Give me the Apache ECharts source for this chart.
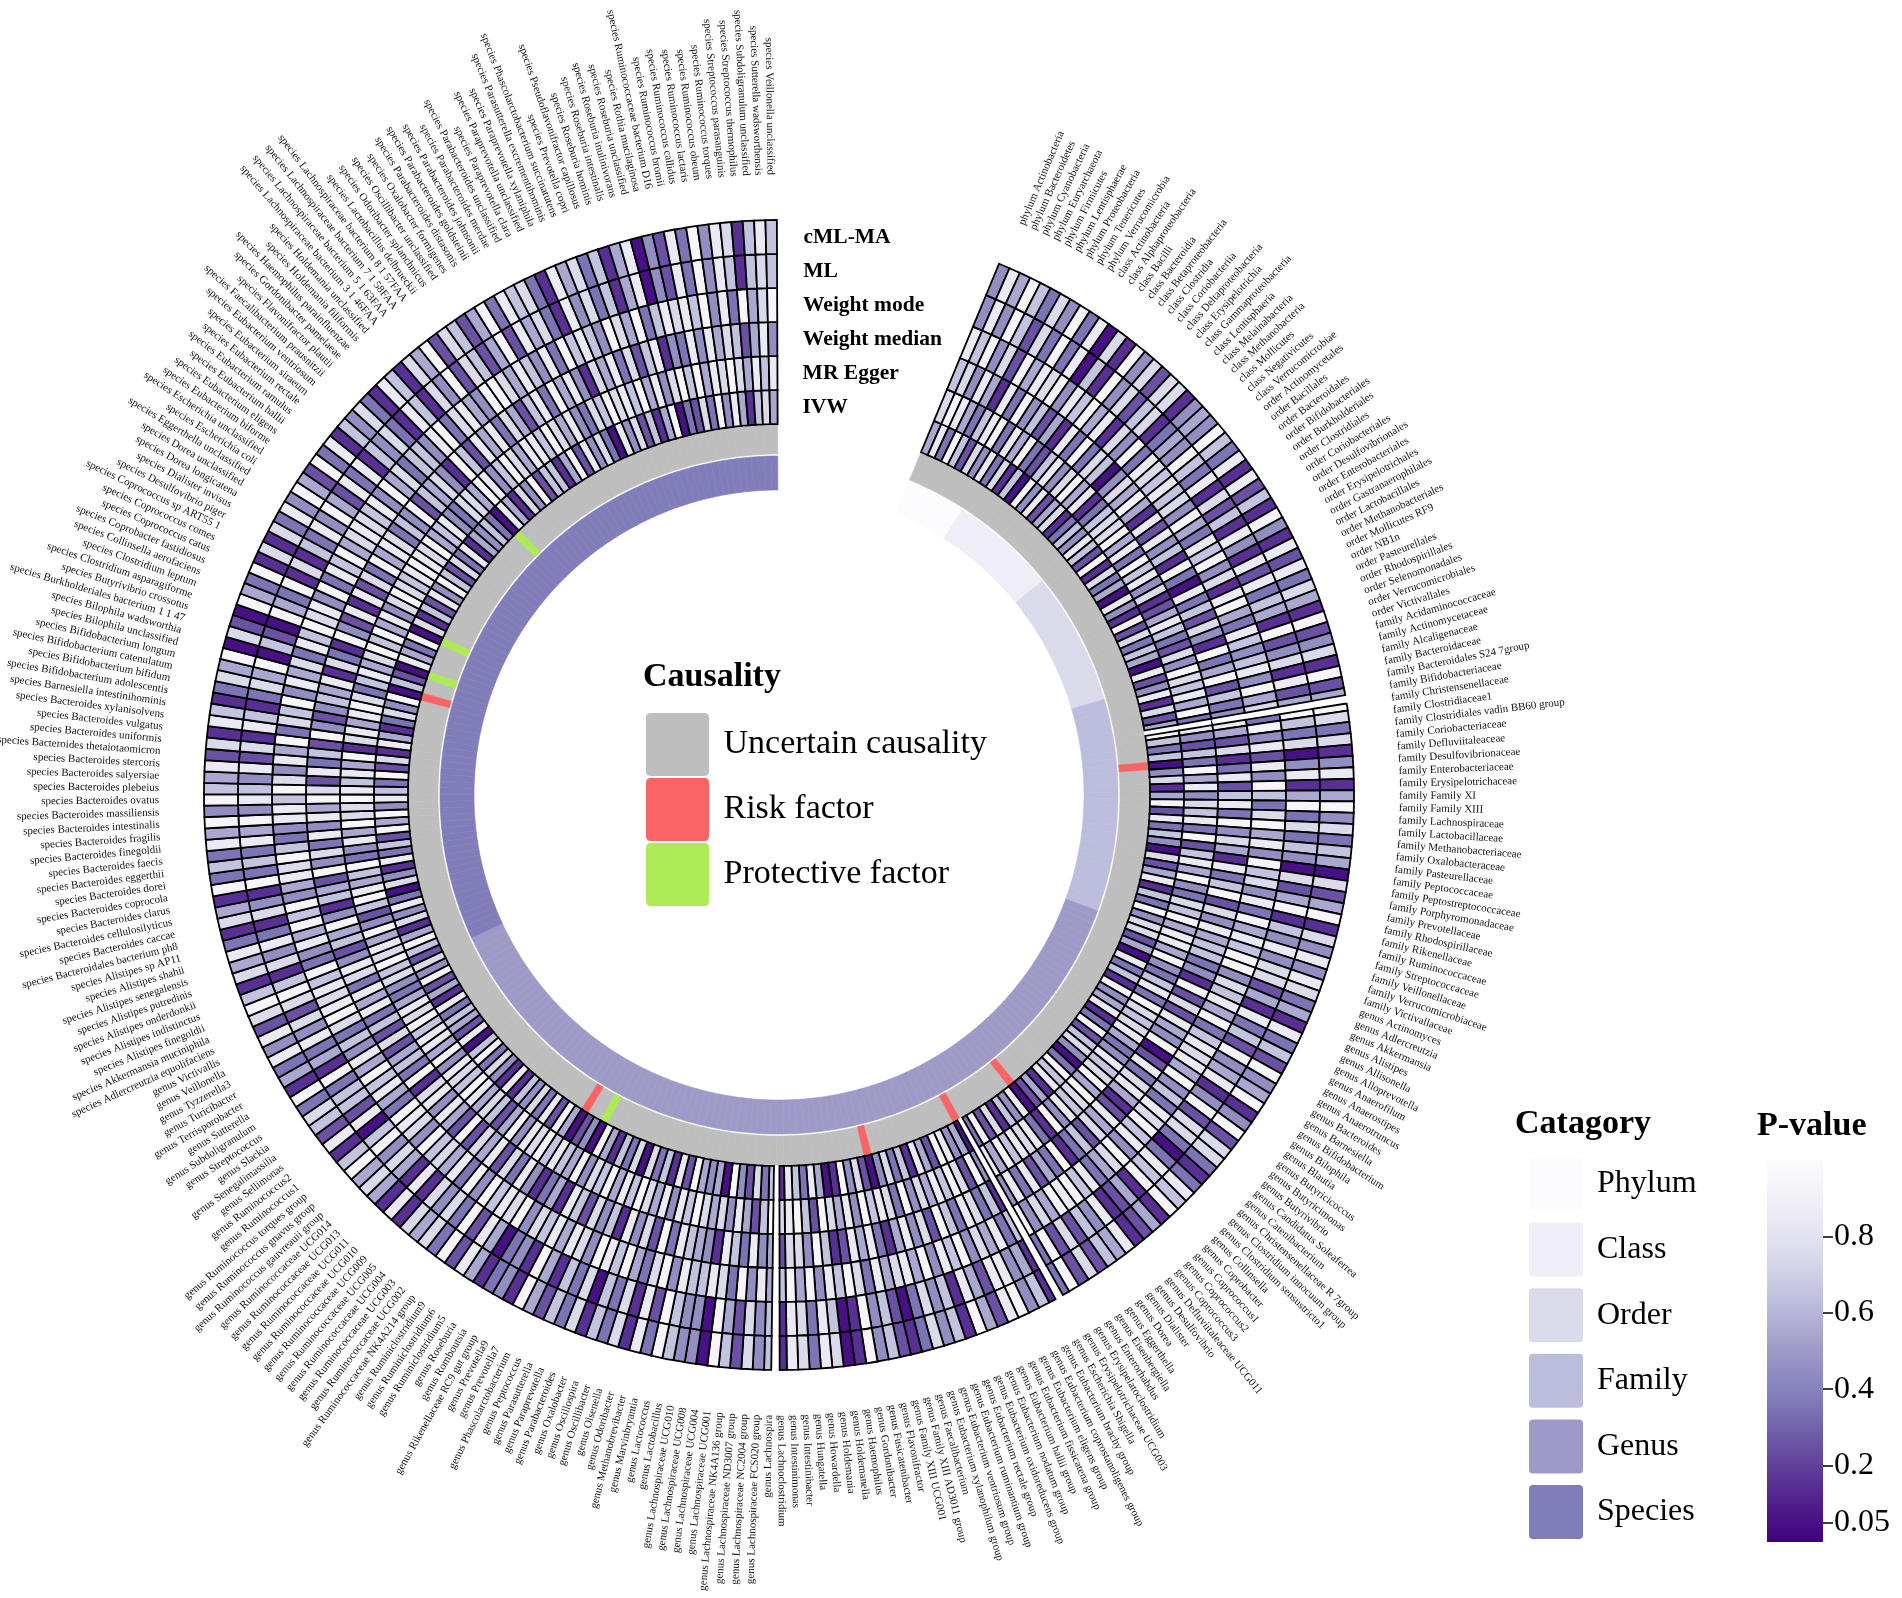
<!DOCTYPE html>
<html lang="en">
<head>
<meta charset="UTF-8">
<title>Causality circos heatmap</title>
<style>
    html, body { margin: 0; padding: 0; background: #fff; }
    #main { width: 1902px; height: 1598px; }
</style>
</head>
<body>
<div id="main"></div>
<script src="https://cdn.jsdelivr.net/npm/echarts@6/dist/echarts.min.js"></script>
<script>
    var phylum = ['Actinobacteria', 'Bacteroidetes', 'Cyanobacteria', 'Euryarchaeota', 'Firmicutes',
        'Lentisphaerae', 'Proteobacteria', 'Tenericutes', 'Verrucomicrobia'];
    var classes = ['Actinobacteria', 'Alphaproteobacteria', 'Bacilli', 'Bacteroidia', 'Betaproteobacteria',
        'Clostridia', 'Coriobacteriia', 'Deltaproteobacteria', 'Erysipelotrichia', 'Gammaproteobacteria',
        'Lentisphaeria', 'Melainabacteria', 'Methanobacteria', 'Mollicutes', 'Negativicutes', 'Verrucomicrobiae'];
    var orders = ['Actinomycetales', 'Bacillales', 'Bacteroidales', 'Bifidobacteriales', 'Burkholderiales',
        'Clostridiales', 'Coriobacteriales', 'Desulfovibrionales', 'Enterobacteriales', 'Erysipelotrichales',
        'Gastranaerophilales', 'Lactobacillales', 'Methanobacteriales', 'Mollicutes RF9', 'NB1n',
        'Pasteurellales', 'Rhodospirillales', 'Selenomonadales', 'Verrucomicrobiales', 'Victivallales'];
    var families = ['Acidaminococcaceae', 'Actinomycetaceae', 'Alcaligenaceae', 'Bacteroidaceae',
        'Bacteroidales S24 7group', 'Bifidobacteriaceae', 'Christensenellaceae', 'Clostridiaceae1',
        'Clostridiales vadin BB60 group', 'Coriobacteriaceae', 'Defluviitaleaceae', 'Desulfovibrionaceae',
        'Enterobacteriaceae', 'Erysipelotrichaceae', 'Family XI', 'Family XIII', 'Lachnospiraceae',
        'Lactobacillaceae', 'Methanobacteriaceae', 'Oxalobacteraceae', 'Pasteurellaceae', 'Peptococcaceae',
        'Peptostreptococcaceae', 'Porphyromonadaceae', 'Prevotellaceae', 'Rhodospirillaceae', 'Rikenellaceae',
        'Ruminococcaceae', 'Streptococcaceae', 'Veillonellaceae', 'Verrucomicrobiaceae', 'Victivallaceae'];
    var genera = ['Actinomyces', 'Adlercreutzia', 'Akkermansia', 'Alistipes', 'Allisonella', 'Alloprevotella',
        'Anaerofilum', 'Anaerostipes', 'Anaerotruncus', 'Bacteroides', 'Barnesiella', 'Bifidobacterium',
        'Bilophila', 'Blautia', 'Butyricicoccus', 'Butyricimonas', 'Butyrivibrio', 'Candidatus Soleaferrea',
        'Catenibacterium', 'Christensenellaceae R 7group', 'Clostridium innocuum group',
        'Clostridium sensustricto1', 'Collinsella', 'Coprobacter', 'Coprococcus1', 'Coprococcus2',
        'Coprococcus3', 'Defluviitaleaceae UCG011', 'Desulfovibrio', 'Dialister', 'Dorea', 'Eggerthella',
        'Eisenbergiella', 'Enterorhabdus', 'Erysipelatoclostridium', 'Erysipelotrichaceae UCG003',
        'Escherichia Shigella', 'Eubacterium brachy group', 'Eubacterium coprostanoligenes group',
        'Eubacterium eligens group', 'Eubacterium fissicatena group', 'Eubacterium hallii group',
        'Eubacterium nodatum group', 'Eubacterium oxidoreducens group', 'Eubacterium rectale group',
        'Eubacterium ruminantium group', 'Eubacterium ventriosum group', 'Eubacterium xylanophilum group',
        'Faecalibacterium', 'Family XIII AD3011 group', 'Family XIII UCG001', 'Flavonifractor',
        'Fusicatenibacter', 'Gordonibacter', 'Haemophilus', 'Holdemanella', 'Holdemania', 'Howardella',
        'Hungatella', 'Intestinibacter', 'Intestinimonas', 'Lachnoclostridium', 'Lachnospira',
        'Lachnospiraceae FCS020 group', 'Lachnospiraceae NC2004 group', 'Lachnospiraceae ND3007 group',
        'Lachnospiraceae NK4A136 group', 'Lachnospiraceae UCG001', 'Lachnospiraceae UCG004',
        'Lachnospiraceae UCG008', 'Lachnospiraceae UCG010', 'Lactobacillus', 'Lactococcus', 'Marvinbryantia',
        'Methanobrevibacter', 'Odoribacter', 'Olsenella', 'Oscillibacter', 'Oscillospira', 'Oxalobacter',
        'Parabacteroides', 'Paraprevotella', 'Parasutterella', 'Peptococcus', 'Phascolarctobacterium',
        'Prevotella7', 'Prevotella9', 'Rikenellaceae RC9 gut group', 'Romboutsia', 'Roseburia',
        'Ruminiclostridium5', 'Ruminiclostridium6', 'Ruminiclostridium9', 'Ruminococcaceae NK4A214 group',
        'Ruminococcaceae UCG002', 'Ruminococcaceae UCG003', 'Ruminococcaceae UCG004', 'Ruminococcaceae UCG005',
        'Ruminococcaceae UCG009', 'Ruminococcaceae UCG010', 'Ruminococcaceae UCG011', 'Ruminococcaceae UCG013',
        'Ruminococcaceae UCG014', 'Ruminococcus gauvreauii group', 'Ruminococcus gnavus group',
        'Ruminococcus torques group', 'Ruminococcus1', 'Ruminococcus2', 'Sellimonas', 'Senegalimassilia',
        'Slackia', 'Streptococcus', 'Subdoligranulum', 'Sutterella', 'Terrisporobacter', 'Turicibacter',
        'Tyzzerella3', 'Veillonella', 'Victivallis'];
    var species = ['Adlercreutzia equolifaciens', 'Akkermansia muciniphila', 'Alistipes finegoldii',
        'Alistipes indistinctus', 'Alistipes onderdonkii', 'Alistipes putredinis', 'Alistipes senegalensis',
        'Alistipes shahii', 'Alistipes sp AP11', 'Bacteroidales bacterium ph8', 'Bacteroides caccae',
        'Bacteroides cellulosilyticus', 'Bacteroides clarus', 'Bacteroides coprocola', 'Bacteroides dorei',
        'Bacteroides eggerthii', 'Bacteroides faecis', 'Bacteroides finegoldii', 'Bacteroides fragilis',
        'Bacteroides intestinalis', 'Bacteroides massiliensis', 'Bacteroides ovatus', 'Bacteroides plebeius',
        'Bacteroides salyersiae', 'Bacteroides stercoris', 'Bacteroides thetaiotaomicron',
        'Bacteroides uniformis', 'Bacteroides vulgatus', 'Bacteroides xylanisolvens',
        'Barnesiella intestinihominis', 'Bifidobacterium adolescentis', 'Bifidobacterium bifidum',
        'Bifidobacterium catenulatum', 'Bifidobacterium longum', 'Bilophila unclassified',
        'Bilophila wadsworthia', 'Burkholderiales bacterium 1 1 47', 'Butyrivibrio crossotus',
        'Clostridium asparagiforme', 'Clostridium leptum', 'Collinsella aerofaciens', 'Coprobacter fastidiosus',
        'Coprococcus catus', 'Coprococcus comes', 'Coprococcus sp ART55 1', 'Desulfovibrio piger',
        'Dialister invisus', 'Dorea longicatena', 'Dorea unclassified', 'Eggerthella unclassified',
        'Escherichia coli', 'Escherichia unclassified', 'Eubacterium biforme', 'Eubacterium eligens',
        'Eubacterium hallii', 'Eubacterium ramulus', 'Eubacterium rectale', 'Eubacterium siraeum',
        'Eubacterium ventriosum', 'Faecalibacterium prausnitzii', 'Flavonifractor plautii',
        'Gordonibacter pamelaeae', 'Haemophilus parainfluenzae', 'Holdemania filiformis',
        'Holdemania unclassified', 'Lachnospiraceae bacterium 3 1 46FAA', 'Lachnospiraceae bacterium 5 1 63FAA',
        'Lachnospiraceae bacterium 7 1 58FAA', 'Lachnospiraceae bacterium 8 1 57FAA', 'Lactobacillus delbrueckii',
        'Odoribacter splanchnicus', 'Oscillibacter unclassified', 'Oxalobacter formigenes',
        'Parabacteroides distasonis', 'Parabacteroides goldsteinii', 'Parabacteroides johnsonii',
        'Parabacteroides merdae', 'Parabacteroides unclassified', 'Paraprevotella clara',
        'Paraprevotella unclassified', 'Paraprevotella xylaniphila', 'Parasutterella excrementihominis',
        'Phascolarctobacterium succinatutens', 'Prevotella copri', 'Pseudoflavonifractor capillosus',
        'Roseburia hominis', 'Roseburia intestinalis', 'Roseburia inulinivorans', 'Roseburia unclassified',
        'Rothia mucilaginosa', 'Ruminococcaceae bacterium D16', 'Ruminococcus bromii', 'Ruminococcus callidus',
        'Ruminococcus lactaris', 'Ruminococcus obeum', 'Ruminococcus torques', 'Streptococcus parasanguinis',
        'Streptococcus thermophilus', 'Subdoligranulum unclassified', 'Sutterella wadsworthensis',
        'Veillonella unclassified'];

    var categories = ['Phylum', 'Class', 'Order', 'Family', 'Genus', 'Species'];
    var categoryColors = ['#fcfbfd', '#efedf5', '#dadaeb', '#bcbddc', '#9e9ac8', '#807dba'];

    // rings from inner to outer
    var methods = ['IVW', 'MR Egger', 'Weight median', 'Weight mode', 'ML', 'cML-MA'];

    // p-values, one digit per taxon (digit d -> p about d/10 + 0.05), split by category
    var pIVW = ['583962748', '3716094825713648', '62917350841927365082',
        '4817259636' + '0' + '471592836407258163947',
        '7250836194' + '5813926740' + '3968152084' + '6172930548' + '9258163740' + '2749105836' +
        '8163724905' + '4592816370' + '7361590420' + '5928374618' + '1473960825' + '638152947',
        '2695174830' + '7418362959' + '4863927185' + '1374906208' + '5390716284' + '9627381546' +
        '3085174926' + '6159284730' + '8472615903' + '2739485167' + '5'];
    var pEgger = ['798536893', '8593268479581367', '79583968471258632749',
        '7685938426' + '3' + '958476839268594376958',
        '8594368397' + '6785348679' + '5976849138' + '7869584927' + '9685749378' + '6948579269' +
        '8796258475' + '7968485796' + '8596749568' + '6978495267' + '5896784958' + '869785347',
        '6978594269' + '8569348597' + '7986859178' + '5897368579' + '6958479768' + '9879568437' +
        '7598469758' + '8697584376' + '9786958479' + '6958797586' + '8'];
    var pWMedian = ['674851839', '4625183937604759', '51828461930836274193',
        '5926348527' + '1' + '382683947518369274856',
        '6341927285' + '4902837851' + '2857263193' + '5283841637' + '8369274851' + '3858216947' +
        '7254836814' + '5683927481' + '6472681531' + '4837285729' + '2584871936' + '527263858',
        '3784265941' + '6529473848' + '5972836294' + '2465817319' + '4281827395' + '8736492657' +
        '4196285837' + '5268395841' + '7583726814' + '3848576258' + '4'];
    var pWMode = ['869472958', '7948695817493876', '86749538694718953864',
        '6849573948' + '2' + '849637958496748395869',
        '9476859368' + '7859463879' + '6849753869' + '8957496385' + '7496849587' + '5837968495' +
        '9658493786' + '6849735968' + '9478586749' + '7869493857' + '6947893586' + '958463798',
        '7869348596' + '9458796348' + '8697485937' + '6948573869' + '7849386957' + '8768495736' +
        '6489378549' + '9758648396' + '8649759368' + '7869483957' + '9'];
    var pML = ['484962739', '3806194726713549', '63817261841828365192',
        '4718259637' + '0' + '481593736407259164847',
        '7251836294' + '5814927730' + '3869152184' + '6272931548' + '8258164730' + '2649106837' +
        '8164725904' + '4692817360' + '7361591430' + '5829374718' + '1574960826' + '639153847',
        '2796174831' + '7419363859' + '4864827186' + '1375906209' + '5391716384' + '9528381647' +
        '3186174927' + '6259285731' + '8473615804' + '2839486167' + '6'];
    var pCML = ['485963749', '3807194727714549', '63818261941828375192',
        '4719259737' + '1' + '481594736507259174848',
        '7351836294' + '5914927731' + '3869152185' + '6272931649' + '8259164731' + '2649107837' +
        '8164726904' + '4693817361' + '7362591431' + '5829375718' + '1575961826' + '739153848',
        '2796175831' + '7519363859' + '4965827186' + '1375907209' + '5391717384' + '9529381647' +
        '3186175927' + '6259386731' + '8573615804' + '2839487168' + '6'];

    var riskFactors = ['family Defluviitaleaceae', 'genus Defluviitaleaceae UCG011', 'genus Escherichia Shigella',
        'genus Family XIII AD3011 group', 'genus Roseburia', 'species Bilophila wadsworthia'];
    var protectiveFactors = ['genus Prevotella9', 'species Clostridium asparagiforme',
        'species Coprococcus comes', 'species Gordonibacter pamelaeae'];
    // heatmap blocks are split after these taxa
    var heatGapAfter = ['family Bifidobacteriaceae', 'genus Erysipelotrichaceae UCG003', 'genus Lachnoclostridium'];

    var pTicks = [0.05, 0.2, 0.4, 0.6, 0.8];
    var purples = ['#3f007d', '#54278f', '#6a51a3', '#807dba', '#9e9ac8', '#bcbddc', '#dadaeb', '#efedf5', '#fcfbfd'];

    var SERIF = '"Liberation Serif", "Times New Roman", serif';

    var groups = [phylum, classes, orders, families, genera, species];
    var prefixes = ['phylum', 'class', 'order', 'family', 'genus', 'species'];
    var taxa = [], taxCat = [];
    groups.forEach(function (g, c) {
        g.forEach(function (n) { taxa.push(prefixes[c] + ' ' + n); taxCat.push(c); });
    });
    var GAP_SLOTS = 20;     // empty slots making the gap at the top
    var slots = taxa.slice();
    for (var k = 0; k < GAP_SLOTS; k++) slots.push('gap' + k);

    function parseP(segs) {
        var out = [];
        segs.forEach(function (s, c) {
            var n = groups[c].length;
            s.padEnd(n, '5').slice(0, n).split('').forEach(function (ch) { out.push(+ch / 10 + 0.05); });
        });
        return out;
    }
    var pByMethod = [pIVW, pEgger, pWMedian, pWMode, pML, pCML].map(parseP);

    // ring radii in px (radius axis is 1 unit = 1 px)
    var CAT_R = [305, 339], CAUSE_R = [341, 370], HEAT_R0 = 371, ROW = 34, LABEL_R = 620;
    var HALF_GAP = 0.42 * Math.PI / 180;

    var gapSet = {};
    heatGapAfter.forEach(function (n) { gapSet[taxa.indexOf(n)] = true; });

    function cellGeom(params, api, idx, r0, r1) {
        var cs = params.coordSys;
        var p = api.coord([r0, idx]), q = api.coord([r0, idx + 1]), o = api.coord([r1, idx]);
        var a = Math.atan2(p[1] - cs.cy, p[0] - cs.cx);
        var b = Math.atan2(q[1] - cs.cy, q[0] - cs.cx);
        var d = b - a;
        if (d < -Math.PI) d += 2 * Math.PI;
        if (d > Math.PI) d -= 2 * Math.PI;
        return {
            cx: cs.cx, cy: cs.cy, a: a, half: Math.abs(d) / 2,
            r0: Math.hypot(p[0] - cs.cx, p[1] - cs.cy),
            r: Math.hypot(o[0] - cs.cx, o[1] - cs.cy)
        };
    }

    function ringSeries(name, color, indices, r0, r1) {
        return {
            type: 'custom', name: name, coordinateSystem: 'polar', clip: false, silent: true,
            itemStyle: {color: color},
            data: indices.map(function (i) { return [r0, i]; }),
            renderItem: function (params, api) {
                var g = cellGeom(params, api, api.value(1), r0, r1);
                return {
                    type: 'sector',
                    shape: {cx: g.cx, cy: g.cy, r0: g.r0, r: g.r,
                        startAngle: g.a - g.half, endAngle: g.a + g.half, clockwise: true},
                    style: {fill: color, stroke: color, lineWidth: 0.6}
                };
            }
        };
    }

    var series = [];
    // category ring
    categories.forEach(function (cat, c) {
        var idx = [];
        taxCat.forEach(function (tc, i) { if (tc === c) idx.push(i); });
        series.push(ringSeries(cat, categoryColors[c], idx, CAT_R[0], CAT_R[1]));
    });
    // causality ring
    series.push(ringSeries('Uncertain causality', '#bebebe', taxa.map(function (t, i) { return i; }), CAUSE_R[0], CAUSE_R[1]));
    series.push(ringSeries('Risk factor', '#fb6466', riskFactors.map(function (n) { return taxa.indexOf(n); }), CAUSE_R[0], CAUSE_R[1]));
    series.push(ringSeries('Protective factor', '#aeea56', protectiveFactors.map(function (n) { return taxa.indexOf(n); }), CAUSE_R[0], CAUSE_R[1]));

    // heatmap rings
    var heatIdx = [];
    methods.forEach(function (m, k) {
        var r0 = HEAT_R0 + ROW * k, r1 = r0 + ROW;
        heatIdx.push(series.length);
        series.push({
            type: 'custom', name: m, coordinateSystem: 'polar', clip: false, silent: true,
            data: pByMethod[k].map(function (p, i) { return [r0, i, p]; }),
            renderItem: function (params, api) {
                var i = api.value(1);
                var g = cellGeom(params, api, i, r0, r1);
                var s = g.a - g.half, e = g.a + g.half;
                if (gapSet[i]) e -= HALF_GAP;
                if (gapSet[i - 1]) s += HALF_GAP;
                return {
                    type: 'sector',
                    shape: {cx: g.cx, cy: g.cy, r0: g.r0, r: g.r, startAngle: s, endAngle: e, clockwise: true},
                    style: {fill: api.visual('color'), stroke: '#000', lineWidth: 1.8}
                };
            }
        });
    });

    // method names in the top gap
    series.push({
        type: 'custom', name: 'methodNames', coordinateSystem: 'polar', clip: false, silent: true,
        data: methods.map(function (m, k) { return [HEAT_R0 + ROW * (k + 0.5), taxa.length]; }),
        renderItem: function (params, api) {
            var p = api.coord([api.value(0), api.value(1)]);
            return {
                type: 'text', x: p[0] + 21, y: p[1],
                style: {text: methods[params.dataIndex], fill: '#000', align: 'left', verticalAlign: 'middle',
                    font: 'bold 21.5px ' + SERIF}
            };
        }
    });

    // taxon labels, radial
    series.push({
        type: 'custom', name: 'taxonLabels', coordinateSystem: 'polar', clip: false, silent: true,
        data: taxa.map(function (t, i) { return [LABEL_R, i]; }),
        renderItem: function (params, api) {
            var cs = params.coordSys, i = api.value(1);
            var p = api.coord([LABEL_R, i]);
            var phi = Math.atan2(p[1] - cs.cy, p[0] - cs.cx);
            var right = p[0] >= cs.cx;
            return {
                type: 'text', x: p[0], y: p[1], rotation: right ? -phi : -phi - Math.PI,
                style: {text: taxa[i], fill: '#111', align: right ? 'left' : 'right',
                    verticalAlign: 'middle', font: '11px ' + SERIF}
            };
        }
    });

    // colour bar for P-value
    series.push({
        type: 'bar', name: 'pbar', xAxisIndex: 0, yAxisIndex: 0, silent: true, barWidth: '100%',
        data: [1],
        itemStyle: {
            color: new echarts.graphic.LinearGradient(0, 1, 0, 0, purples.map(function (c, i) {
                return {offset: i / (purples.length - 1), color: c};
            }))
        }
    });

    var iconPath = 'path://M4,0H50Q54,0,54,4V50Q54,54,50,54H4Q0,54,0,50V4Q0,0,4,0Z';
    var titleStyle = {fontFamily: SERIF, fontWeight: 'bold', fontSize: 34, color: '#000'};

    var myChart = echarts.init(document.getElementById('main'));
    myChart.setOption({
        animation: false,
        backgroundColor: '#fff',
        title: [
            {text: 'Causality', left: 643, top: 660, padding: 0, textStyle: titleStyle},
            {text: 'Catagory', left: 1515, top: 1107, padding: 0, textStyle: titleStyle},
            {text: 'P-value', left: 1757, top: 1109, padding: 0, textStyle: titleStyle}
        ],
        legend: [
            {
                data: ['Uncertain causality', 'Risk factor', 'Protective factor'],
                left: 646, top: 713, orient: 'vertical', padding: 0,
                itemWidth: 64, itemHeight: 63, itemGap: 2, icon: iconPath, selectedMode: false,
                textStyle: {fontFamily: SERIF, fontSize: 34, color: '#000', padding: [0, 0, 0, 9]}
            },
            {
                data: categories,
                left: 1529, top: 1157, orient: 'vertical', padding: 0,
                itemWidth: 54, itemHeight: 54, itemGap: 11.6, icon: iconPath, selectedMode: false,
                textStyle: {fontFamily: SERIF, fontSize: 32, color: '#000', padding: [0, 0, 0, 9]}
            }
        ],
        visualMap: {
            type: 'continuous', show: false, min: 0, max: 1, dimension: 2,
            seriesIndex: heatIdx, inRange: {color: purples}
        },
        polar: {center: [779, 795], radius: [0, 700]},
        angleAxis: {
            type: 'category', data: slots, startAngle: 67.5, clockwise: true, boundaryGap: true,
            show: false, axisLine: {show: false}, splitLine: {show: false}
        },
        radiusAxis: {type: 'value', min: 0, max: 700, show: false, splitLine: {show: false}},
        grid: {left: 1767, top: 1160, width: 56, height: 382},
        xAxis: {type: 'category', data: ['P'], show: false},
        yAxis: {
            type: 'value', min: 0, max: 1, position: 'right',
            axisLine: {show: false}, splitLine: {show: false},
            axisTick: {show: true, customValues: pTicks, length: 10, lineStyle: {color: '#000', width: 1.5}},
            axisLabel: {
                customValues: pTicks, margin: 11, color: '#000', fontFamily: SERIF, fontSize: 32,
                formatter: function (v) { return v < 0.1 ? '0.05' : v.toFixed(1); }
            }
        },
        series: series
    });
</script>
</body>
</html>
